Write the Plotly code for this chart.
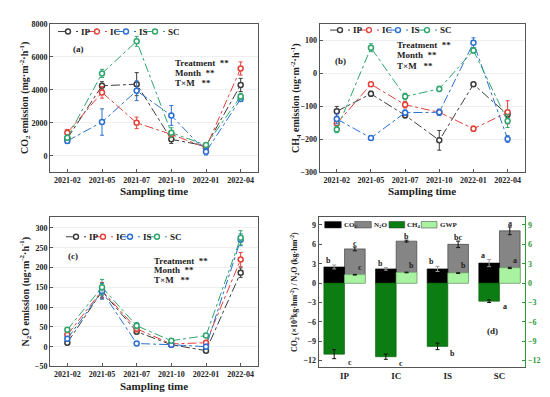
import plotly.graph_objects as go

# ---------------- data ----------------
dates = ["2021-02", "2021-05", "2021-07", "2021-10", "2022-01", "2022-04"]
series = ["IP", "IC", "IS", "SC"]

# (a) CO2 emission (mg m-2 h-1)
co2_ip = [1050, 4250, 4350, 1000, 600, 4300]
co2_ic = [1400, 3850, 2000, 1300, 500, 5300]
co2_is = [900, 2050, 3950, 2450, 250, 3450]
co2_sc = [1100, 5000, 6950, 1400, 650, 3600]
co2_ip_err = [150, 250, 700, 250, 100, 400]
co2_ic_err = [200, 350, 350, 150, 100, 400]
co2_is_err = [150, 800, 600, 600, 200, 150]
co2_sc_err = [150, 250, 300, 300, 100, 200]

# (b) CH4 emission (ug m-2 h-1)
ch4_ip = [-115, -62, -127, -203, -33, -125]
ch4_ic = [-152, -33, -95, -118, -168, -118]
ch4_is = [-138, -196, -119, -118, 93, -199]
ch4_sc = [-170, 78, -70, -47, 70, -144]
ch4_ip_err = [15, 8, 8, 30, 5, 8]
ch4_ic_err = [15, 6, 10, 8, 8, 35]
ch4_is_err = [15, 6, 8, 10, 15, 10]
ch4_sc_err = [10, 12, 10, 8, 8, 20]

# (c) N2O emission (ug m-2 h-1)
n2o_ip = [10, 140, 38, 5, -10, 187]
n2o_ic = [30, 142, 45, 7, 10, 220]
n2o_is = [20, 140, 8, 5, 0, 270]
n2o_sc = [43, 150, 53, 15, 28, 275]
n2o_ip_err = [5, 15, 5, 3, 5, 12]
n2o_ic_err = [5, 20, 8, 3, 5, 18]
n2o_is_err = [5, 20, 4, 3, 5, 15]
n2o_sc_err = [5, 20, 8, 5, 5, 18]

# (d) cumulative emissions
cats = ["IP", "IC", "IS", "SC"]
cum_co2 = [2.5, 2.2, 2.2, 3.1]
cum_n2o = [5.3, 6.5, 6.0, 8.1]
cum_ch4 = [-11.0, -11.4, -9.8, -2.8]
cum_gwp = [1.3, 1.65, 1.55, 2.35]
cum_co2_err = [0.3, 0.2, 0.4, 0.55]
cum_n2o_err = [0.3, 0.15, 0.5, 0.6]
cum_ch4_err = [0.7, 0.4, 0.5, 0.2]
cum_gwp_err = [0.05, 0.05, 0.05, 0.1]
let_co2 = ["b", "b", "b", "a"]
let_n2o = ["c", "b", "bc", "a"]
let_ch4 = ["c", "c", "b", "a"]
let_gwp = ["c", "b", "b", "a"]

colors = {"IP": "#3c3c3c", "IC": "#e5403a", "IS": "#2b6fd2", "SC": "#2fa56c"}
FONT = "Liberation Serif"
W, H = 550, 397

fig = go.Figure()

def px(x):
    return x / W

def py(y):
    return 1 - y / H

panels = [
    ("x", "y", [co2_ip, co2_ic, co2_is, co2_sc], [co2_ip_err, co2_ic_err, co2_is_err, co2_sc_err]),
    ("x2", "y2", [ch4_ip, ch4_ic, ch4_is, ch4_sc], [ch4_ip_err, ch4_ic_err, ch4_is_err, ch4_sc_err]),
    ("x3", "y3", [n2o_ip, n2o_ic, n2o_is, n2o_sc], [n2o_ip_err, n2o_ic_err, n2o_is_err, n2o_sc_err]),
]
for xa, ya, vals, errs in panels:
    for s, v, e in zip(series, vals, errs):
        c = colors[s]
        fig.add_trace(go.Scatter(
            x=dates, y=v, mode="lines+markers", name=s, showlegend=False,
            xaxis=xa, yaxis=ya,
            line=dict(color=c, width=1, dash="dashdot"),
            marker=dict(symbol="circle", size=5, color="white", line=dict(color=c, width=1.5)),
            error_y=dict(type="data", array=e, color=c, thickness=1, width=2),
        ))

# (d) bars
fig.add_trace(go.Bar(x=cats, y=cum_n2o, name="N2O", width=0.4, offset=0.0,
                     marker=dict(color="#858585", line=dict(color="#333", width=0.6)),
                     error_y=dict(type="data", array=cum_n2o_err, color="#111", thickness=1, width=2),
                     xaxis="x4", yaxis="y4", showlegend=False))
fig.add_trace(go.Bar(x=cats, y=cum_co2, name="CO2", width=0.4, offset=-0.4,
                     marker=dict(color="#000000", line=dict(color="#000", width=0.6)),
                     error_y=dict(type="data", array=cum_co2_err, color="#9a9a9a", thickness=1, width=2),
                     xaxis="x4", yaxis="y4", showlegend=False))
fig.add_trace(go.Bar(x=cats, y=cum_ch4, name="CH4", width=0.4, offset=-0.4,
                     marker=dict(color="#0b7d12", line=dict(color="#0a5a0a", width=0.6)),
                     error_y=dict(type="data", array=cum_ch4_err, color="#111", thickness=1, width=2),
                     xaxis="x4", yaxis="y5", showlegend=False))
fig.add_trace(go.Bar(x=cats, y=cum_gwp, name="GWP", width=0.4, offset=0.0,
                     marker=dict(color="#a9f2a2", line=dict(color="#6cc46a", width=0.6)),
                     error_y=dict(type="data", array=cum_gwp_err, color="#111", thickness=1, width=2),
                     xaxis="x4", yaxis="y5", showlegend=False))

fig.update_layout(barmode="overlay")

tickf = dict(family=FONT, size=8, color="#222", weight="bold")
axcommon = dict(showline=True, linecolor="#555", linewidth=1, mirror=True, ticks="inside",
                ticklen=3, tickcolor="#555", tickfont=tickf, zeroline=False)

xa_dom = [px(42), px(250)]
xb_dom = [px(311.7), px(516.7)]
xd_dom = [px(310.7), px(517.3)]
top_dom = [py(164), py(12.3)]
bot_dom_c = [py(362.7), py(210)]
bot_dom_d = [py(363.3), py(210)]

fig.update_layout(
    width=W, height=H, margin=dict(l=0, r=0, t=0, b=0),
    paper_bgcolor="white", plot_bgcolor="white",
    font=dict(family=FONT, color="#222", size=9),
    xaxis=dict(domain=xa_dom, anchor="y", type="category", range=[-0.5, 5.5], showgrid=False, **axcommon),
    yaxis=dict(domain=top_dom, anchor="x", range=[-1000, 8000], tickvals=[0, 2000, 4000, 6000, 8000],
               showgrid=True, gridcolor="#efefef", **axcommon),
    xaxis2=dict(domain=xb_dom, anchor="y2", type="category", range=[-0.5, 5.5], showgrid=False, **axcommon),
    yaxis2=dict(domain=top_dom, anchor="x2", range=[-300, 150], tickvals=[-300, -200, -100, 0, 100],
                showgrid=True, gridcolor="#efefef", **axcommon),
    xaxis3=dict(domain=xa_dom, anchor="y3", type="category", range=[-0.5, 5.5], showgrid=False, **axcommon),
    yaxis3=dict(domain=bot_dom_c, anchor="x3", range=[-50, 327],
                tickvals=[-50, 0, 50, 100, 150, 200, 250, 300],
                showgrid=True, gridcolor="#efefef", **axcommon),
    xaxis4=dict(domain=xd_dom, anchor="y4", type="category", range=[-0.5, 3.5], showgrid=False,
                showline=True, linecolor="#555", linewidth=1, mirror=True, ticks="",
                tickfont=dict(family=FONT, size=9, color="#222", weight="bold"), zeroline=False),
    yaxis4=dict(domain=bot_dom_d, anchor="x4", range=[-13, 10.2], tickvals=list(range(-12, 10, 3)),
                showgrid=False, showline=True, linecolor="#555", linewidth=1, mirror=False,
                ticks="inside", ticklen=3, tickcolor="#555", tickfont=tickf, zeroline=False),
    yaxis5=dict(overlaying="y4", side="right", anchor="x4", range=[-13, 10.2],
                tickvals=list(range(-12, 10, 3)), showgrid=False, showline=True,
                linecolor="#2e9a3a", linewidth=1, ticks="inside", ticklen=3, tickcolor="#2e9a3a",
                tickfont=dict(family=FONT, size=8, color="#2e9a3a", weight="bold"), zeroline=False),
)

ann = []
shapes = []

def txt(x, y, s, size=9, xanchor="left", angle=0, color="#222", yanchor="middle"):
    ann.append(dict(x=x, y=y, xref="paper", yref="paper", text=s, showarrow=False,
                    xanchor=xanchor, yanchor=yanchor, textangle=angle,
                    font=dict(family=FONT, size=size, color=color, weight="bold")))

# axis titles
txt(px(17), py(88), "CO<sub>2</sub> emission (mg·m<sup>-2</sup>·h<sup>-1</sup>)", 10, "center", -90)
txt(px(288), py(88), "CH<sub>4</sub> emission (ug·m<sup>-2</sup>·h<sup>-1</sup>)", 10, "center", -90)
txt(px(17), py(286), "N<sub>2</sub>O emission (ug·m<sup>-2</sup>·h<sup>-1</sup>)", 10, "center", -90)
txt(px(286), py(286.5), "CO<sub>2</sub> (×10<sup>3</sup>kg·hm<sup>-2</sup>) / N<sub>2</sub>O (kg·hm<sup>-2</sup>)", 8, "center", -90)
txt(px(537), py(286.5), "CH<sub>4</sub> (kg·hm<sup>-2</sup>) / GWP (×10<sup>3</sup>kg CO<sub>2</sub>-eq·hm<sup>-2</sup>)", 7, "center", -90)
txt(px(146), py(183), "Sampling time", 11, "center")
txt(px(414), py(183), "Sampling time", 11, "center")
txt(px(146), py(383), "Sampling time", 11, "center")

# stats annotations
for (x0, ys) in [(165, [52, 62.3, 72.7]), (386.7, [34, 44.3, 55]), (144.3, [254.3, 264.3, 274.3])]:
    txt(px(x0), py(ys[0]), "Treatment  **", 9)
    txt(px(x0), py(ys[1]), "Month  **", 9)
    txt(px(x0), py(ys[2]), "T×M   **", 9)

txt(px(63), py(38), "(a)", 9)
txt(px(325), py(50), "(b)", 9)
txt(px(58), py(250), "(c)", 9)
ann.append(dict(x=2.87, y=-7.4, xref="x4", yref="y4", text="(d)", showarrow=False,
                font=dict(family=FONT, size=9, color="#222", weight="bold")))

# custom legends for line panels
def line_legend(xs, y):
    for s, cx in zip(series, xs):
        c = colors[s]
        shapes.append(dict(type="line", xref="paper", yref="paper", xsizemode="pixel",
                           xanchor=px(cx), x0=-10, x1=10, y0=py(y), y1=py(y),
                           line=dict(color=c, width=1, dash="dash")))
        shapes.append(dict(type="circle", xref="paper", yref="paper", xsizemode="pixel",
                           ysizemode="pixel", xanchor=px(cx), yanchor=py(y), x0=-2.5, x1=2.5, y0=-2.5, y1=2.5,
                           fillcolor="white", line=dict(color=c, width=1.4)))
        txt(px(cx + 11), py(y), s, 9)

line_legend([60, 89, 118, 147], 20)
line_legend([332, 361, 390, 419], 18.5)
line_legend([68, 95, 122, 149], 230)

# legend for bar panel
for (x0, x1, col, lab) in [(316.7, 333.3, "#000000", "CO<sub>2</sub>"), (346.7, 363.3, "#858585", "N<sub>2</sub>O"),
                           (381, 396.7, "#0b7d12", "CH<sub>4</sub>"), (413.3, 429, "#a9f2a2", "GWP")]:
    shapes.append(dict(type="rect", xref="paper", yref="paper", x0=px(x0), x1=px(x1),
                       y0=py(221), y1=py(214.3), fillcolor=col, line=dict(color="#333", width=0.5)))
    txt(px(x1 + 0.5), py(217.7), lab, 7)

# significance letters for bars
for i in range(len(cats)):
    def la(x, y, s):
        ann.append(dict(x=x, y=y, xref="x4", yref="y4", text=s, showarrow=False,
                        font=dict(family=FONT, size=8, color="#222", weight="bold")))
    la(i - 0.31, cum_co2[i] + cum_co2_err[i] + 0.7, let_co2[i])
    la(i + 0.2, cum_n2o[i] + cum_n2o_err[i] + 0.6, let_n2o[i])
    la(i + 0.3, cum_gwp[i] + 1.1, let_gwp[i])
    la(i + 0.1, cum_ch4[i] - cum_ch4_err[i] - 0.6, let_ch4[i])

fig.update_layout(annotations=ann, shapes=shapes)
fig.write_html("out.html")
